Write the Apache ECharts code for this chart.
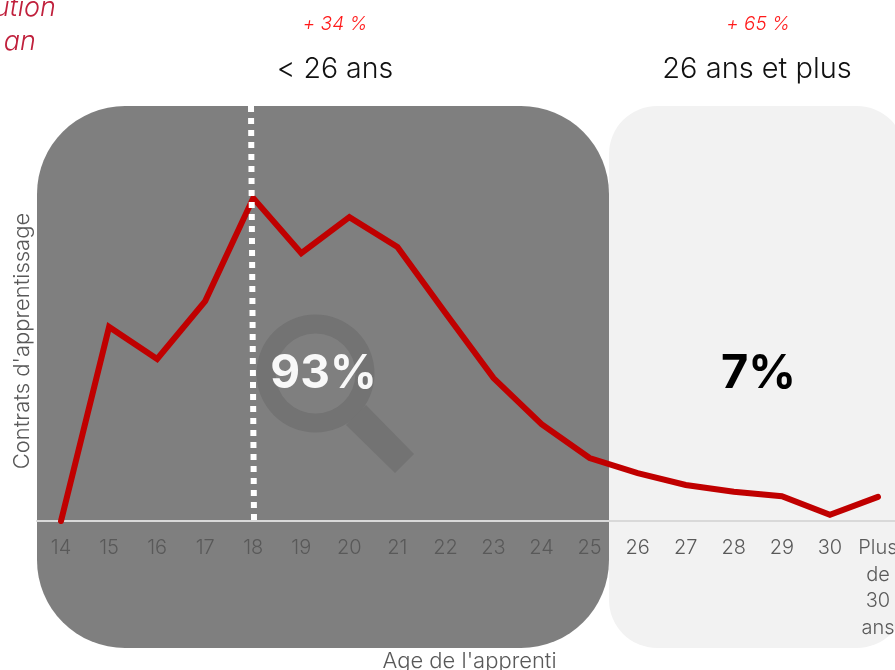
<!DOCTYPE html>
<html><head><meta charset="utf-8">
<style>html,body{margin:0;padding:0;background:#fff;overflow:hidden}#c{width:895px;height:670px}</style>
<script src="https://cdn.jsdelivr.net/npm/echarts@6/dist/echarts.min.js"></script></head>
<body><div id="c"></div><script>
const ages = ['14','15','16','17','18','19','20','21','22','23','24','25','26','27','28','29','30','Plus\nde\n30\nans'];
const contrats = [0,53.9,45,61.1,89.7,74.4,84.4,76.1,57.8,39.7,26.9,17.5,13.3,10,8.1,6.9,1.7,6.7];
const FONT = 'Inter';
const GREY = '#595959';
const chart = echarts.init(document.getElementById('c'), null, {renderer:'canvas', width:895, height:670});
function txt(x,y,text,size,color,extra){
  return {type:'text',x:x,y:y,z:100,silent:true,style:Object.assign({text:text,fontFamily:FONT,fontWeight:300,fontSize:size,fill:color,align:'center',verticalAlign:'middle'},extra||{})};
}
chart.setOption({
  animation:false,
  backgroundColor:'#fff',
  grid:{left:37,top:161,width:865,height:360,containLabel:false,outerBoundsMode:'none'},
  xAxis:{type:'category',data:ages,boundaryGap:true,
    name:"Age de l'apprenti",nameLocation:'middle',nameGap:129,
    nameTextStyle:{fontFamily:FONT,fontWeight:300,fontSize:22,color:GREY},
    axisLine:{lineStyle:{color:'#d9d9d9',width:2}},axisTick:{show:false},
    axisLabel:{interval:0,fontFamily:FONT,fontWeight:300,fontSize:20,color:GREY,margin:14,lineHeight:26.5,hideOverlap:false}},
  yAxis:{type:'value',min:0,max:100,
    name:"Contrats d'apprentissage",nameLocation:'middle',nameGap:4,
    nameTextStyle:{fontFamily:FONT,fontWeight:300,fontSize:22,color:GREY},
    axisLine:{show:false},axisTick:{show:false},axisLabel:{show:false},splitLine:{show:false}},
  series:[{type:'line',data:contrats,symbol:'none',z:5,clip:false,
    lineStyle:{color:'#c00000',width:6,cap:'round',join:'miter'}}],
  graphic:{elements:[
    {type:'rect',z:-20,silent:true,shape:{x:609,y:106,width:296,height:542,r:48},style:{fill:'#f2f2f2'}},
    {type:'rect',z:-10,silent:true,shape:{x:37,y:106,width:572,height:542,r:88},style:{fill:'#7f7f7f'}},
    {type:'ring',z:-5,silent:true,shape:{cx:315.5,cy:373.5,r:59,r0:40},style:{fill:'#737373'}},
    {type:'polygon',z:-5,silent:true,shape:{points:[[346,425],[366,405],[414,454],[395,473]]},style:{fill:'#737373'}},
    {type:'line',z:50,silent:true,shape:{x1:251,y1:106,x2:254,y2:520},style:{stroke:'#fff',lineWidth:6,lineDash:[6,6]}},
    txt(323.5,374,'93%',46,'#fff',{fontWeight:'bold',opacity:0.95}),
    txt(758.5,374,'7%',47,'#000',{fontWeight:'bold'}),
    txt(335,24,'+ 34 %',19,'#ff1a1a',{fontStyle:'italic'}),
    txt(758,24,'+ 65 %',19,'#ff1a1a',{fontStyle:'italic'}),
    txt(335,69,'< 26 ans',28.5,'#111'),
    txt(757,69,'26 ans et plus',29,'#111'),
    txt(56,8,'Évolution',27,'#c0203c',{fontStyle:'italic',align:'right'}),
    txt(36,42,'sur un an',27,'#c0203c',{fontStyle:'italic',align:'right'})
  ]}
});
</script></body></html>
